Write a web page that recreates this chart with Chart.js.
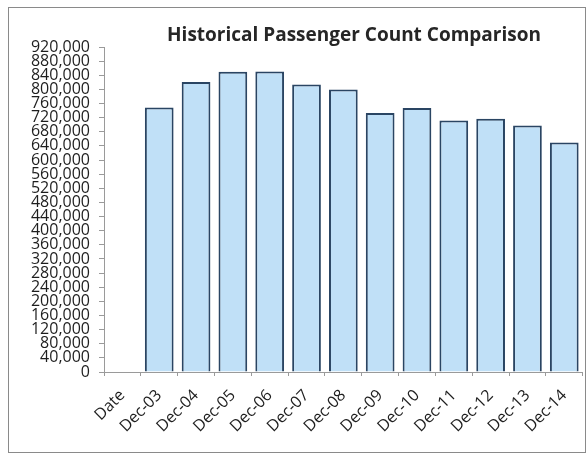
<!DOCTYPE html>
<html>
<head>
<meta charset="utf-8">
<script src="https://cdn.jsdelivr.net/npm/chart.js@4.4.0/dist/chart.umd.min.js"></script>
<style>
  html, body { margin: 0; padding: 0; background: #ffffff; }
  #wrap { width: 588px; height: 455px; position: relative; }
</style>
</head>
<body>
<div id="wrap"><canvas id="c"></canvas></div>
<script>
const categories = ["Date", "Dec-03", "Dec-04", "Dec-05", "Dec-06", "Dec-07", "Dec-08", "Dec-09", "Dec-10", "Dec-11", "Dec-12", "Dec-13", "Dec-14"];
const passengers = [null, 749000, 821000, 850000, 851000, 814000, 800000, 733000, 747000, 712000, 717000, 698000, 650000];
const titleText = 'Historical Passenger Count Comparison';
const yMax = 920000;
const yStep = 40000;

const framePlugin = {
  id: 'frame',
  beforeDraw(chart) {
    const ctx = chart.ctx;
    ctx.save();
    ctx.fillStyle = '#ffffff';
    ctx.fillRect(0, 0, chart.width, chart.height);
    ctx.strokeStyle = '#8a8a8a';
    ctx.lineWidth = 1;
    ctx.strokeRect(8.5, 7.5, 577, 445);
    ctx.restore();
  },
  afterDraw(chart) {
    const ctx = chart.ctx;
    ctx.save();
    ctx.fillStyle = '#262626';
    ctx.font = 'bold 19px "Open Sans"';
    ctx.textAlign = 'center';
    ctx.textBaseline = 'middle';
    ctx.fillText(titleText, 354, 36);
    ctx.restore();
  }
};

new Chart(document.getElementById('c'), {
  type: 'bar',
  data: {
    labels: categories,
    datasets: [{
      data: passengers,
      backgroundColor: '#c0e0f7',
      borderColor: '#2a4563',
      borderWidth: 2,
      borderSkipped: 'bottom',
      barPercentage: 0.78,
      categoryPercentage: 1.0
    }]
  },
  options: {
    responsive: true,
    maintainAspectRatio: false,
    animation: false,
    layout: { padding: { left: 10, right: 4, top: 47, bottom: 0 } },
    plugins: {
      legend: { display: false },
      tooltip: { enabled: false },
      title: { display: false }
    },
    scales: {
      x: {
        grid: { display: true, drawOnChartArea: false, drawTicks: true, tickLength: 4, color: '#9a9a9a', offset: true },
        border: { display: true, color: '#9a9a9a', width: 1 },
        ticks: {
          color: '#1e1e1e',
          font: { family: 'Open Sans', size: 16 },
          maxRotation: 45,
          minRotation: 45,
          autoSkip: false,
          padding: 10
        },
        afterFit(scale) { scale.height = 83; }
      },
      y: {
        min: 0,
        max: yMax,
        grid: { display: true, drawOnChartArea: false, drawTicks: true, tickLength: 5, color: '#9a9a9a' },
        border: { display: true, color: '#9a9a9a', width: 1 },
        ticks: {
          stepSize: yStep,
          autoSkip: false,
          color: '#1e1e1e',
          font: { family: 'Open Sans', size: 16, lineHeight: 1 },
          padding: 9,
          callback: (v) => v.toLocaleString('en-US')
        },
        afterFit(scale) { scale.width = 94; }
      }
    }
  },
  plugins: [framePlugin]
});
</script>
</body>
</html>
